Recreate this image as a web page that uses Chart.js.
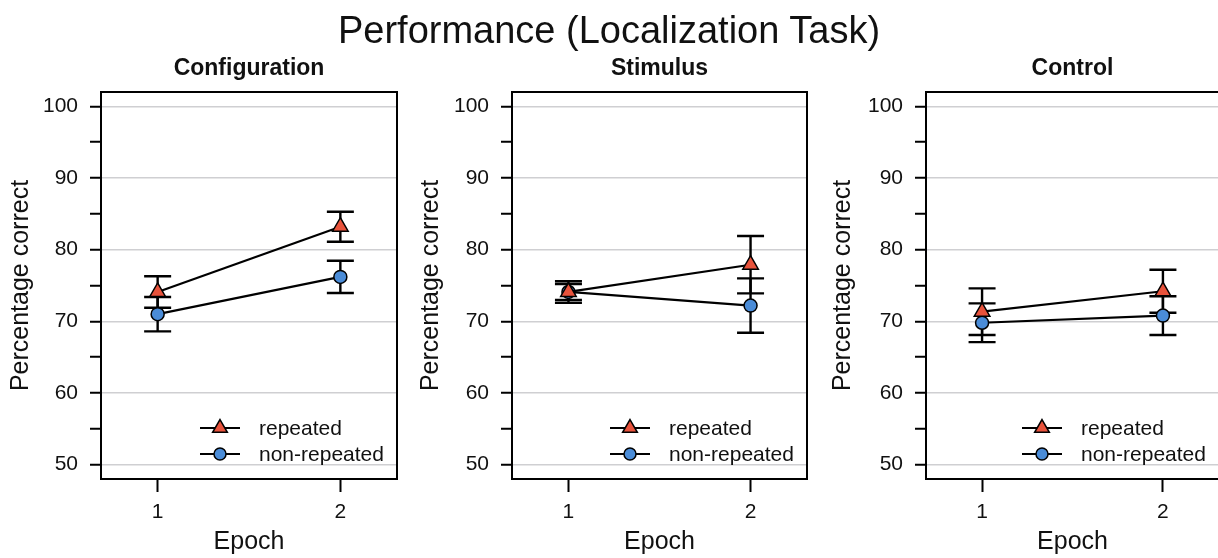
<!DOCTYPE html>
<html>
<head>
<meta charset="utf-8">
<script src="https://cdn.jsdelivr.net/npm/chart.js@4.4.1/dist/chart.umd.min.js"></script>
<style>
  html, body { margin:0; padding:0; background:#fff; overflow:hidden; width:1218px; height:558px; }
  #wrap { position:relative; width:1218px; height:558px; overflow:hidden; }
  #mainTitle { position:absolute; left:0; top:8px; width:1218px; text-align:center;
    font-family:"Liberation Sans", Arial, sans-serif; font-size:38px; color:#111; line-height:44px; z-index:2; }
  canvas { position:absolute; top:0; }
</style>
</head>
<body>
<div id="wrap">
  <div id="mainTitle">Performance (Localization Task)</div>
  <canvas id="c0" width="402" height="558" style="left:0px"></canvas>
  <canvas id="c1" width="402" height="558" style="left:410px"></canvas>
  <canvas id="c2" width="402" height="558" style="left:822px"></canvas>
</div>
<script>
// ---- data ----
const epochs = [1, 2];
const panelTitles = ['Configuration', 'Stimulus', 'Control'];
const seriesNames = ['repeated', 'non-repeated'];
const yTickValues = [50, 55, 60, 65, 70, 75, 80, 85, 90, 95, 100];
const yTickLabels = ['50', '', '60', '', '70', '', '80', '', '90', '', '100'];

const configRepeated = [74.1, 83.2];
const configRepeatedErr = [2.2, 2.1];
const configNonRepeated = [71.0, 76.2];
const configNonRepeatedErr = [2.4, 2.25];

const stimulusRepeated = [74.1, 77.9];
const stimulusRepeatedErr = [1.5, 4.0];
const stimulusNonRepeated = [74.1, 72.2];
const stimulusNonRepeatedErr = [1.1, 3.8];

const controlRepeated = [71.35, 74.2];
const controlRepeatedErr = [3.25, 3.0];
const controlNonRepeated = [69.8, 70.8];
const controlNonRepeatedErr = [2.7, 2.7];

const panelData = [
  [[configRepeated, configRepeatedErr], [configNonRepeated, configNonRepeatedErr]],
  [[stimulusRepeated, stimulusRepeatedErr], [stimulusNonRepeated, stimulusNonRepeatedErr]],
  [[controlRepeated, controlRepeatedErr], [controlNonRepeated, controlNonRepeatedErr]]
];

// ---- styles ----
const FONT = '"Liberation Sans", Arial, Helvetica, sans-serif';
const markerStyles = ['triangle', 'circle'];
const markerFills = ['#E8533C', '#4A8CD8'];
const markerRadii = [9, 6.5];
const legendRadii = [8.5, 6];
const yAxisWidths = [101, 102, 104];
const rightPads = [5, 5, 5];

function drawMarker(ctx, style, r, fill, x, y) {
  ctx.save();
  ctx.fillStyle = fill;
  ctx.strokeStyle = '#000';
  ctx.lineWidth = 1.5;
  ctx.beginPath();
  if (style === 'triangle') {
    let rad = 0;
    ctx.moveTo(x + Math.sin(rad) * r, y - Math.cos(rad) * r);
    rad += 2 * Math.PI / 3;
    ctx.lineTo(x + Math.sin(rad) * r, y - Math.cos(rad) * r);
    rad += 2 * Math.PI / 3;
    ctx.lineTo(x + Math.sin(rad) * r, y - Math.cos(rad) * r);
    ctx.closePath();
  } else {
    ctx.arc(x, y, r, 0, Math.PI * 2);
  }
  ctx.fill();
  ctx.stroke();
  ctx.restore();
}

const panelPlugin = {
  id: 'panelExtras',
  beforeDatasetsDraw(chart, args, opts) {
    const ctx = chart.ctx;
    const ys = chart.scales.y;
    ctx.save();
    ctx.strokeStyle = '#000';
    ctx.lineWidth = 2.4;
    chart.data.datasets.forEach((ds, i) => {
      const meta = chart.getDatasetMeta(i);
      ds.errors.forEach((e, j) => {
        const pt = meta.data[j];
        const x = pt.x;
        const v = ds.data[j].y;
        const yTop = ys.getPixelForValue(v + e);
        const yBot = ys.getPixelForValue(v - e);
        ctx.beginPath();
        ctx.moveTo(x, yTop); ctx.lineTo(x, yBot);
        ctx.moveTo(x - 13.5, yTop); ctx.lineTo(x + 13.5, yTop);
        ctx.moveTo(x - 13.5, yBot); ctx.lineTo(x + 13.5, yBot);
        ctx.stroke();
      });
    });
    ctx.restore();
  },
  afterDraw(chart, args, opts) {
    const ctx = chart.ctx;
    const a = chart.chartArea;
    ctx.save();
    // box
    ctx.strokeStyle = '#000';
    ctx.lineWidth = 2;
    ctx.strokeRect(a.left, a.top, a.right - a.left, a.bottom - a.top);
    // panel title
    ctx.fillStyle = '#111';
    ctx.font = 'bold 23px ' + FONT;
    ctx.textAlign = 'center';
    ctx.textBaseline = 'middle';
    ctx.fillText(opts.title, (a.left + a.right) / 2, 69);
    // legend
    ctx.font = '21px ' + FONT;
    ctx.textAlign = 'left';
    chart.data.datasets.forEach((ds, i) => {
      const y = a.bottom - 51 + i * 26;
      const x0 = a.right - 197;
      ctx.strokeStyle = '#000';
      ctx.lineWidth = 2.2;
      ctx.beginPath();
      ctx.moveTo(x0, y); ctx.lineTo(x0 + 40, y);
      ctx.stroke();
      drawMarker(ctx, markerStyles[i], legendRadii[i], markerFills[i], x0 + 20, y);
      ctx.fillStyle = '#111';
      ctx.fillText(ds.label, a.right - 138, y + 1);
    });
    ctx.restore();
  }
};

panelTitles.forEach((title, p) => {
  const datasets = panelData[p].map(([vals, errs], i) => ({
    label: seriesNames[i],
    data: epochs.map((e, j) => ({ x: e, y: vals[j] })),
    errors: errs,
    borderColor: '#000',
    borderWidth: 2.2,
    pointStyle: markerStyles[i],
    pointRadius: markerRadii[i],
    pointHoverRadius: markerRadii[i],
    pointBackgroundColor: markerFills[i],
    pointBorderColor: '#000',
    pointBorderWidth: 1.5,
    tension: 0,
    fill: false
  }));
  new Chart(document.getElementById('c' + p), {
    type: 'line',
    data: { datasets },
    plugins: [panelPlugin],
    options: {
      responsive: false,
      animation: false,
      devicePixelRatio: 1,
      layout: { autoPadding: false, padding: { top: 92, right: rightPads[p], bottom: 0, left: 0 } },
      plugins: {
        legend: { display: false },
        tooltip: { enabled: false },
        panelExtras: { title }
      },
      scales: {
        x: {
          type: 'linear',
          min: 0.69, max: 2.31,
          afterBuildTicks: s => { s.ticks = epochs.map(v => ({ value: v })); },
          afterFit: s => { s.height = 79; s.paddingRight = 0; s.paddingLeft = 0; },
          ticks: { color: '#111', font: { family: FONT, size: 21 }, padding: 8,
                   callback: v => String(v), maxRotation: 0, autoSkip: false },
          grid: { drawOnChartArea: false, drawTicks: true, tickLength: 13, tickColor: '#000', tickWidth: 2 },
          border: { display: false },
          title: { display: true, text: 'Epoch', color: '#111',
                   font: { family: FONT, size: 25 }, padding: { top: 0, bottom: 1 } }
        },
        y: {
          type: 'linear',
          min: 48, max: 102,
          afterBuildTicks: s => { s.ticks = yTickValues.map(v => ({ value: v })); },
          afterFit: s => { s.width = yAxisWidths[p]; },
          ticks: { color: '#111', font: { family: FONT, size: 21 }, padding: 12,
                   callback: v => yTickLabels[yTickValues.indexOf(v)], autoSkip: false },
          grid: {
            color: c => (c.tick && c.tick.value % 10 === 0) ? '#cfcfd2' : 'rgba(0,0,0,0)',
            lineWidth: 1.5,
            drawTicks: true, tickLength: 11, tickColor: '#000', tickWidth: 2
          },
          border: { display: false },
          title: { display: true, text: 'Percentage correct', color: '#111',
                   font: { family: FONT, size: 25 }, padding: { top: 6, bottom: 0 } }
        }
      }
    }
  });
});
</script>
</body>
</html>
